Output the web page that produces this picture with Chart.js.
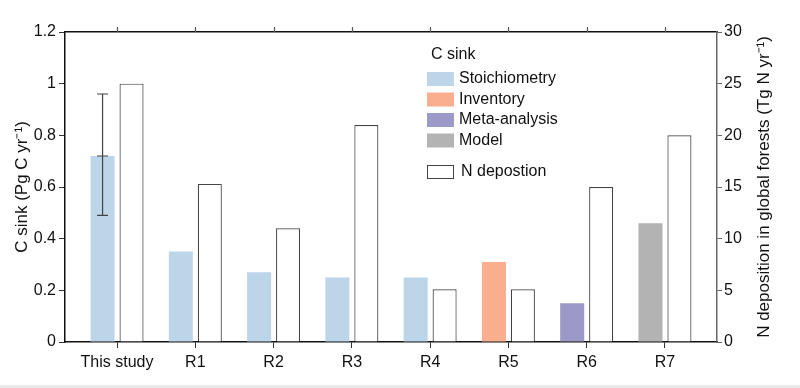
<!DOCTYPE html>
<html>
<head>
<meta charset="utf-8">
<script src="https://cdn.jsdelivr.net/npm/chart.js@4"></script>
<style>
    body { margin: 0; background: #fff; }
    #wrap { position: relative; width: 800px; height: 388px; }
    #strip { position: absolute; left: 0; bottom: 0; width: 800px; height: 3px; background: #e9e9e9; }
</style>
</head>
<body>
<div id="wrap">
    <canvas id="chart"></canvas>
    <div id="strip"></div>
</div>
<script>
// Data
const categories = ['This study', 'R1', 'R2', 'R3', 'R4', 'R5', 'R6', 'R7'];
const cSink = [0.72, 0.35, 0.27, 0.25, 0.25, 0.31, 0.15, 0.46];
const cSinkMethod = ['Stoichiometry', 'Stoichiometry', 'Stoichiometry', 'Stoichiometry', 'Stoichiometry', 'Inventory', 'Meta-analysis', 'Model'];
const errLow = [0.49, null, null, null, null, null, null, null];
const errHigh = [0.96, null, null, null, null, null, null, null];
const nDeposition = [25, 15.3, 11, 21, 5.1, 5.1, 15, 20];
const leftTicks = [0, 0.2, 0.4, 0.6, 0.8, 1, 1.2];
const rightTicks = [0, 5, 10, 15, 20, 25, 30];

const methodColors = {
    'Stoichiometry': '#bdd5e8',
    'Inventory': '#f9ae8e',
    'Meta-analysis': '#9c98c8',
    'Model': '#b3b3b3'
};

const FONT = "'Liberation Sans', Arial, sans-serif";
Chart.defaults.font.family = FONT;
Chart.defaults.font.size = 16;
Chart.defaults.color = '#111';

// error bar on the C sink bars
const errorBars = {
    id: 'errorBars',
    afterDatasetsDraw(chart) {
        const ctx = chart.ctx;
        const y = chart.scales.y;
        const meta = chart.getDatasetMeta(0);
        ctx.save();
        ctx.strokeStyle = '#444';
        ctx.lineWidth = 1.2;
        meta.data.forEach((bar, i) => {
            if (errHigh[i] == null) return;
            const x = bar.x;
            const yHi = y.getPixelForValue(errHigh[i]);
            const yLo = y.getPixelForValue(errLow[i]);
            const yMid = y.getPixelForValue(cSink[i]);
            ctx.beginPath();
            ctx.moveTo(x, yHi); ctx.lineTo(x, yLo);
            [yHi, yLo, yMid].forEach(yy => {
                ctx.moveTo(x - 5.5, yy); ctx.lineTo(x + 5.5, yy);
            });
            ctx.stroke();
        });
        ctx.restore();
    }
};

// custom legend inside the plot, top tick marks, right-hand title (reads bottom to top)
const boxLegend = {
    id: 'boxLegend',
    afterDraw(chart) {
        const ctx = chart.ctx;
        const area = chart.chartArea;
        const xs = chart.scales.x;
        ctx.save();

        ctx.strokeStyle = '#555';
        ctx.lineWidth = 1.2;
        ctx.beginPath();
        categories.forEach((_, i) => {
            const px = Math.round(xs.getPixelForValue(i)) + 0.5;
            ctx.moveTo(px, area.top - 5);
            ctx.lineTo(px, area.top);
        });
        ctx.stroke();

        ctx.font = '16px ' + FONT;
        ctx.textBaseline = 'middle';
        ctx.fillStyle = '#111';
        ctx.fillText('C sink', 431, 55);
        const methods = Object.keys(methodColors);
        methods.forEach((m, i) => {
            const cy = 79 + i * 20.5;
            ctx.fillStyle = methodColors[m];
            ctx.fillRect(427, cy - 7, 27, 14);
            ctx.fillStyle = '#111';
            ctx.fillText(m, 459, cy);
        });
        ctx.strokeStyle = '#444';
        ctx.lineWidth = 1;
        ctx.strokeRect(427.5, 165.5, 26, 13);
        ctx.fillText('N depostion', 461, 172);

        ctx.font = '17px ' + FONT;
        ctx.translate(764, (area.top + area.bottom) / 2);
        ctx.rotate(-Math.PI / 2);
        ctx.textAlign = 'center';
        ctx.fillText('N deposition in global forests (Tg N yr\u207B\u00B9)', 0, 0);
        ctx.restore();
    }
};

const xTicks = axis => { axis.ticks = categories.map((_, i) => ({ value: i })); };

new Chart(document.getElementById('chart'), {
    type: 'bar',
    data: {
        datasets: [{
            label: 'C sink',
            data: cSink.map((v, i) => ({ x: i, y: v })),
            backgroundColor: cSinkMethod.map(m => methodColors[m]),
            borderWidth: 0,
            xAxisID: 'x',
            yAxisID: 'y'
        }, {
            label: 'N depostion',
            data: nDeposition.map((v, i) => ({ x: i, y: v })),
            backgroundColor: '#fff',
            borderColor: '#444',
            borderWidth: 1.2,
            borderSkipped: 'bottom',
            xAxisID: 'x',
            yAxisID: 'y2'
        }]
    },
    options: {
        responsive: true,
        maintainAspectRatio: false,
        animation: false,
        categoryPercentage: 0.74,
        barPercentage: 0.83,
        layout: { padding: 0 },
        plugins: {
            legend: { display: false },
            tooltip: { enabled: false }
        },
        scales: {
            x: {
                type: 'linear',
                position: 'bottom',
                offset: false,
                min: -0.665,
                max: 7.665,
                afterBuildTicks: xTicks,
                afterFit: s => { s.height = 46; },
                grid: { drawOnChartArea: false, offset: false, tickLength: 6, color: '#333' },
                border: { color: '#111', width: 1.5 },
                ticks: {
                    padding: 5,
                    maxRotation: 0,
                    autoSkip: false,
                    callback: v => categories[v]
                }
            },
            x2: {
                type: 'linear',
                position: 'top',
                offset: false,
                min: -0.665,
                max: 7.665,
                afterBuildTicks: xTicks,
                afterFit: s => { s.height = 32; },
                grid: { drawOnChartArea: false, drawTicks: false },
                border: { color: '#111', width: 1.5 },
                ticks: { display: false }
            },
            y: {
                position: 'left',
                min: 0,
                max: 1.2,
                afterBuildTicks: axis => { axis.ticks = leftTicks.map(v => ({ value: v })); },
                afterFit: s => { s.width = 65; },
                grid: { drawOnChartArea: false, tickLength: 6, color: '#333' },
                border: { color: '#111', width: 1.5 },
                ticks: { padding: 3, callback: v => String(+v.toFixed(1)) },
                title: {
                    display: true,
                    text: 'C sink (Pg C yr\u207B\u00B9)',
                    font: { size: 17 },
                    padding: { top: 12, bottom: 0 }
                }
            },
            y2: {
                position: 'right',
                min: 0,
                max: 30,
                afterBuildTicks: axis => { axis.ticks = rightTicks.map(v => ({ value: v })); },
                afterFit: s => { s.width = 83; },
                grid: { drawOnChartArea: false, tickLength: 5, color: '#666' },
                border: { color: '#666', width: 1.5 },
                ticks: { padding: 2 }
            }
        }
    },
    plugins: [errorBars, boxLegend]
});
</script>
</body>
</html>
